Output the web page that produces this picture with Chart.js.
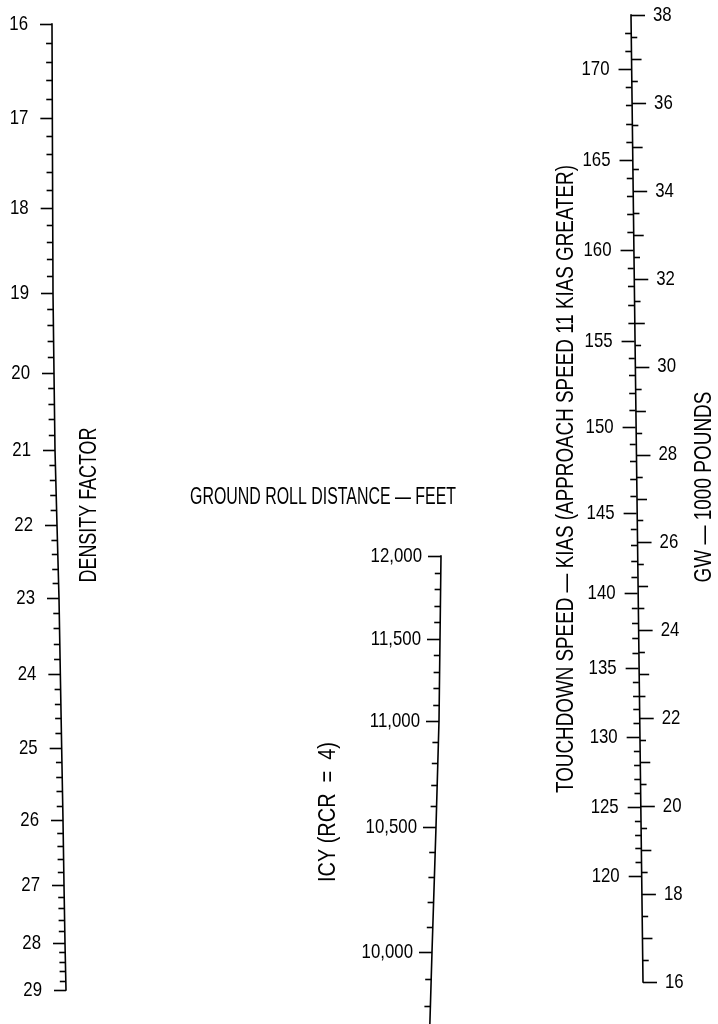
<!DOCTYPE html>
<html>
<head>
<meta charset="utf-8">
<title>Ground roll distance nomogram</title>
<script src="https://cdn.jsdelivr.net/npm/chart.js@4.4.1/dist/chart.umd.min.js"></script>
<style>
  html, body { margin: 0; padding: 0; background: #fff; }
  #wrap { width: 718px; height: 1024px; position: relative; }
</style>
</head>
<body>
<div id="wrap"><canvas id="nomogram"></canvas></div>
<script>
// Scale values
const densityLabels = [16, 17, 18, 19, 20, 21, 22, 23, 24, 25, 26, 27, 28, 29];
const densityMinorStep = 0.2;

const distanceLabels = [12000, 11500, 11000, 10500, 10000];
const distanceRange = [9700, 12000];
const distanceMinorStep = 100;

const speedLabels = [120, 125, 130, 135, 140, 145, 150, 155, 160, 165, 170];
const speedRange = [120, 172];
const speedMinorStep = 1;

const weightLabels = [16, 18, 20, 22, 24, 26, 28, 30, 32, 34, 36, 38];
const weightMinorStep = 0.5;

// Sheet geometry: where values fall down the 1024 px sheet, and where each ladder runs across it
const sheetHeight = 1024;
const ladderGeometry = {
  density: {
    place: [[16, 24], [17, 118], [18, 208], [19, 293], [20, 373], [21, 450], [22, 525],
            [23, 598], [24, 674], [25, 748], [26, 820], [27, 885], [28, 943], [29, 990]],
    across: [[16, 52], [19, 53], [21, 55], [23, 59], [26, 63], [29, 66]]
  },
  distance: {
    place: [[9500, 1087], [10000, 952], [10500, 827], [11000, 721], [11500, 639], [12000, 556]],
    across: [[9500, 428], [10000, 432], [10500, 436], [11000, 439], [12000, 441]]
  },
  speed: {
    place: [[120, 876], [125, 807], [130, 737], [135, 668], [140, 593], [145, 513],
            [150, 427], [155, 341], [160, 250], [165, 160], [170, 69], [175, -21]],
    across: [[120, 641.7], [175, 630.5]]
  },
  weight: {
    place: [[16, 982], [38, 15]],
    across: [[16, 643], [38, 631]]
  }
};

function interp(pairs, v) {
  const pts = pairs.slice().sort((a, b) => a[0] - b[0]);
  let i = 0;
  while (i < pts.length - 2 && v > pts[i + 1][0]) i++;
  const [v0, p0] = pts[i];
  const [v1, p1] = pts[i + 1];
  return p0 + (v - v0) * (p1 - p0) / (v1 - v0);
}

// Nomogram ladder scale: value -> vertical position from its calibration
class NomoScale extends Chart.LinearScale {
  getPixelForValue(value) {
    const y = interp(ladderGeometry[this.id].place, value);
    return this.top + (this.bottom - this.top) * y / sheetHeight;
  }
  getValueForPixel(pixel) {
    const y = (pixel - this.top) / (this.bottom - this.top) * sheetHeight;
    const inv = ladderGeometry[this.id].place.map(p => [p[1], p[0]]);
    return interp(inv, y);
  }
}
NomoScale.id = 'nomo';
NomoScale.defaults = Chart.LinearScale.defaults;
Chart.register(NomoScale);

const FONT = "'Liberation Sans', Arial, sans-serif";

function drawText(ctx, text, x, y, o) {
  ctx.save();
  ctx.translate(x, y);
  if (o.rotate) ctx.rotate(o.rotate);
  ctx.font = o.font;
  const w = ctx.measureText(text).width;
  const sx = o.width ? o.width / w : (o.squeeze || 1);
  ctx.scale(sx, 1);
  ctx.textAlign = o.align || 'center';
  ctx.textBaseline = 'middle';
  ctx.fillStyle = '#000';
  ctx.fillText(text, 0, 0);
  ctx.restore();
}

function steps(min, max, step) {
  const n = Math.round((max - min) / step);
  const out = [];
  for (let i = 0; i <= n; i++) out.push(+(min + i * step).toFixed(4));
  return out;
}

// One ladder: spine, ticks and numbers
function drawLadder(chart, cfg) {
  const ctx = chart.ctx;
  const xs = chart.scales.x;
  const sc = chart.scales[cfg.id];
  const across = ladderGeometry[cfg.id].across;
  const xAt = v => xs.getPixelForValue(interp(across, v));
  const values = steps(cfg.min, cfg.max, cfg.step);

  ctx.save();
  ctx.strokeStyle = '#000';
  ctx.lineWidth = 1.6;
  ctx.lineCap = 'square';

  if (cfg.spine !== false) {
    ctx.beginPath();
    values.forEach((v, i) => {
      const px = xAt(v), py = sc.getPixelForValue(v);
      if (i === 0) ctx.moveTo(px, py); else ctx.lineTo(px, py);
    });
    ctx.stroke();
  }

  ctx.lineCap = 'butt';
  values.forEach(v => {
    const len = cfg.tickLength(v);
    const px = xAt(v), py = Math.round(sc.getPixelForValue(v)) + 0.5;
    ctx.beginPath();
    ctx.moveTo(px, py);
    ctx.lineTo(px + cfg.side * len, py);
    ctx.stroke();
  });

  cfg.labels.forEach(v => {
    const px = xAt(v) + cfg.side * cfg.labelGap;
    const py = sc.getPixelForValue(v);
    drawText(ctx, cfg.format(v), px, py, {
      font: '21px ' + FONT, squeeze: 0.8, align: cfg.side < 0 ? 'right' : 'left'
    });
  });
  ctx.restore();
}

const nomogramPlugin = {
  id: 'nomogram',
  beforeDraw(chart) {
    const ctx = chart.ctx;
    ctx.save();
    ctx.fillStyle = '#fff';
    ctx.fillRect(0, 0, chart.width, chart.height);
    ctx.restore();
  },
  afterDraw(chart) {
    const ctx = chart.ctx;
    const xs = chart.scales.x;
    const area = chart.chartArea;
    const sheetY = y => area.top + (area.bottom - area.top) * y / sheetHeight;
    const up = -Math.PI / 2;

    drawLadder(chart, {
      id: 'density', min: densityLabels[0], max: densityLabels[densityLabels.length - 1],
      step: densityMinorStep, side: -1, labelGap: 24, labels: densityLabels,
      tickLength: v => Math.abs(v - Math.round(v)) < 1e-6 ? 12 : 6,
      format: v => String(v)
    });

    drawLadder(chart, {
      id: 'distance', min: distanceRange[0], max: distanceRange[1],
      step: distanceMinorStep, side: -1, labelGap: 19, labels: distanceLabels,
      tickLength: v => v % 500 === 0 ? 13 : 6,
      format: v => v.toLocaleString('en-US')
    });

    drawLadder(chart, {
      id: 'weight', min: weightLabels[0], max: weightLabels[weightLabels.length - 1],
      step: weightMinorStep, side: 1, labelGap: 22, labels: weightLabels,
      tickLength: v => v % 2 === 0 ? 14 : (v % 1 === 0 ? 10 : 6),
      format: v => String(v)
    });

    drawLadder(chart, {
      id: 'speed', min: speedRange[0], max: speedRange[1], spine: false,
      step: speedMinorStep, side: -1, labelGap: 22, labels: speedLabels,
      tickLength: v => v % 5 === 0 ? 13 : 6,
      format: v => String(v)
    });

    // Ladder titles
    const title = '23px ' + FONT;
    drawText(ctx, 'DENSITY FACTOR', xs.getPixelForValue(90), sheetY(505),
      { font: title, rotate: up, width: 155 });
    drawText(ctx, 'GROUND ROLL DISTANCE \u2014 FEET', xs.getPixelForValue(323), sheetY(498),
      { font: title, width: 266 });
    drawText(ctx, 'ICY (RCR  =  4)', xs.getPixelForValue(329), sheetY(812),
      { font: title, rotate: up, width: 140 });
    drawText(ctx, 'TOUCHDOWN SPEED \u2014 KIAS (APPROACH SPEED 11 KIAS GREATER)',
      xs.getPixelForValue(567), sheetY(479), { font: title, rotate: up, width: 628 });
    drawText(ctx, 'GW \u2014 1000 POUNDS', xs.getPixelForValue(705), sheetY(487),
      { font: title, rotate: up, width: 191 });
  }
};

const ladderScale = {
  type: 'nomo', axis: 'y', position: 'left', display: false
};

new Chart(document.getElementById('nomogram'), {
  type: 'scatter',
  data: { datasets: [] },
  options: {
    responsive: true,
    maintainAspectRatio: false,
    animation: false,
    devicePixelRatio: 1,
    layout: { padding: 0 },
    plugins: { legend: { display: false }, tooltip: { enabled: false } },
    scales: {
      x: { type: 'linear', min: 0, max: 718, display: false },
      density: Object.assign({}, ladderScale, { min: 16, max: 29 }),
      distance: Object.assign({}, ladderScale, { min: 9500, max: 12000 }),
      speed: Object.assign({}, ladderScale, { min: 120, max: 175 }),
      weight: Object.assign({}, ladderScale, { min: 16, max: 38 })
    }
  },
  plugins: [nomogramPlugin]
});
</script>
</body>
</html>
